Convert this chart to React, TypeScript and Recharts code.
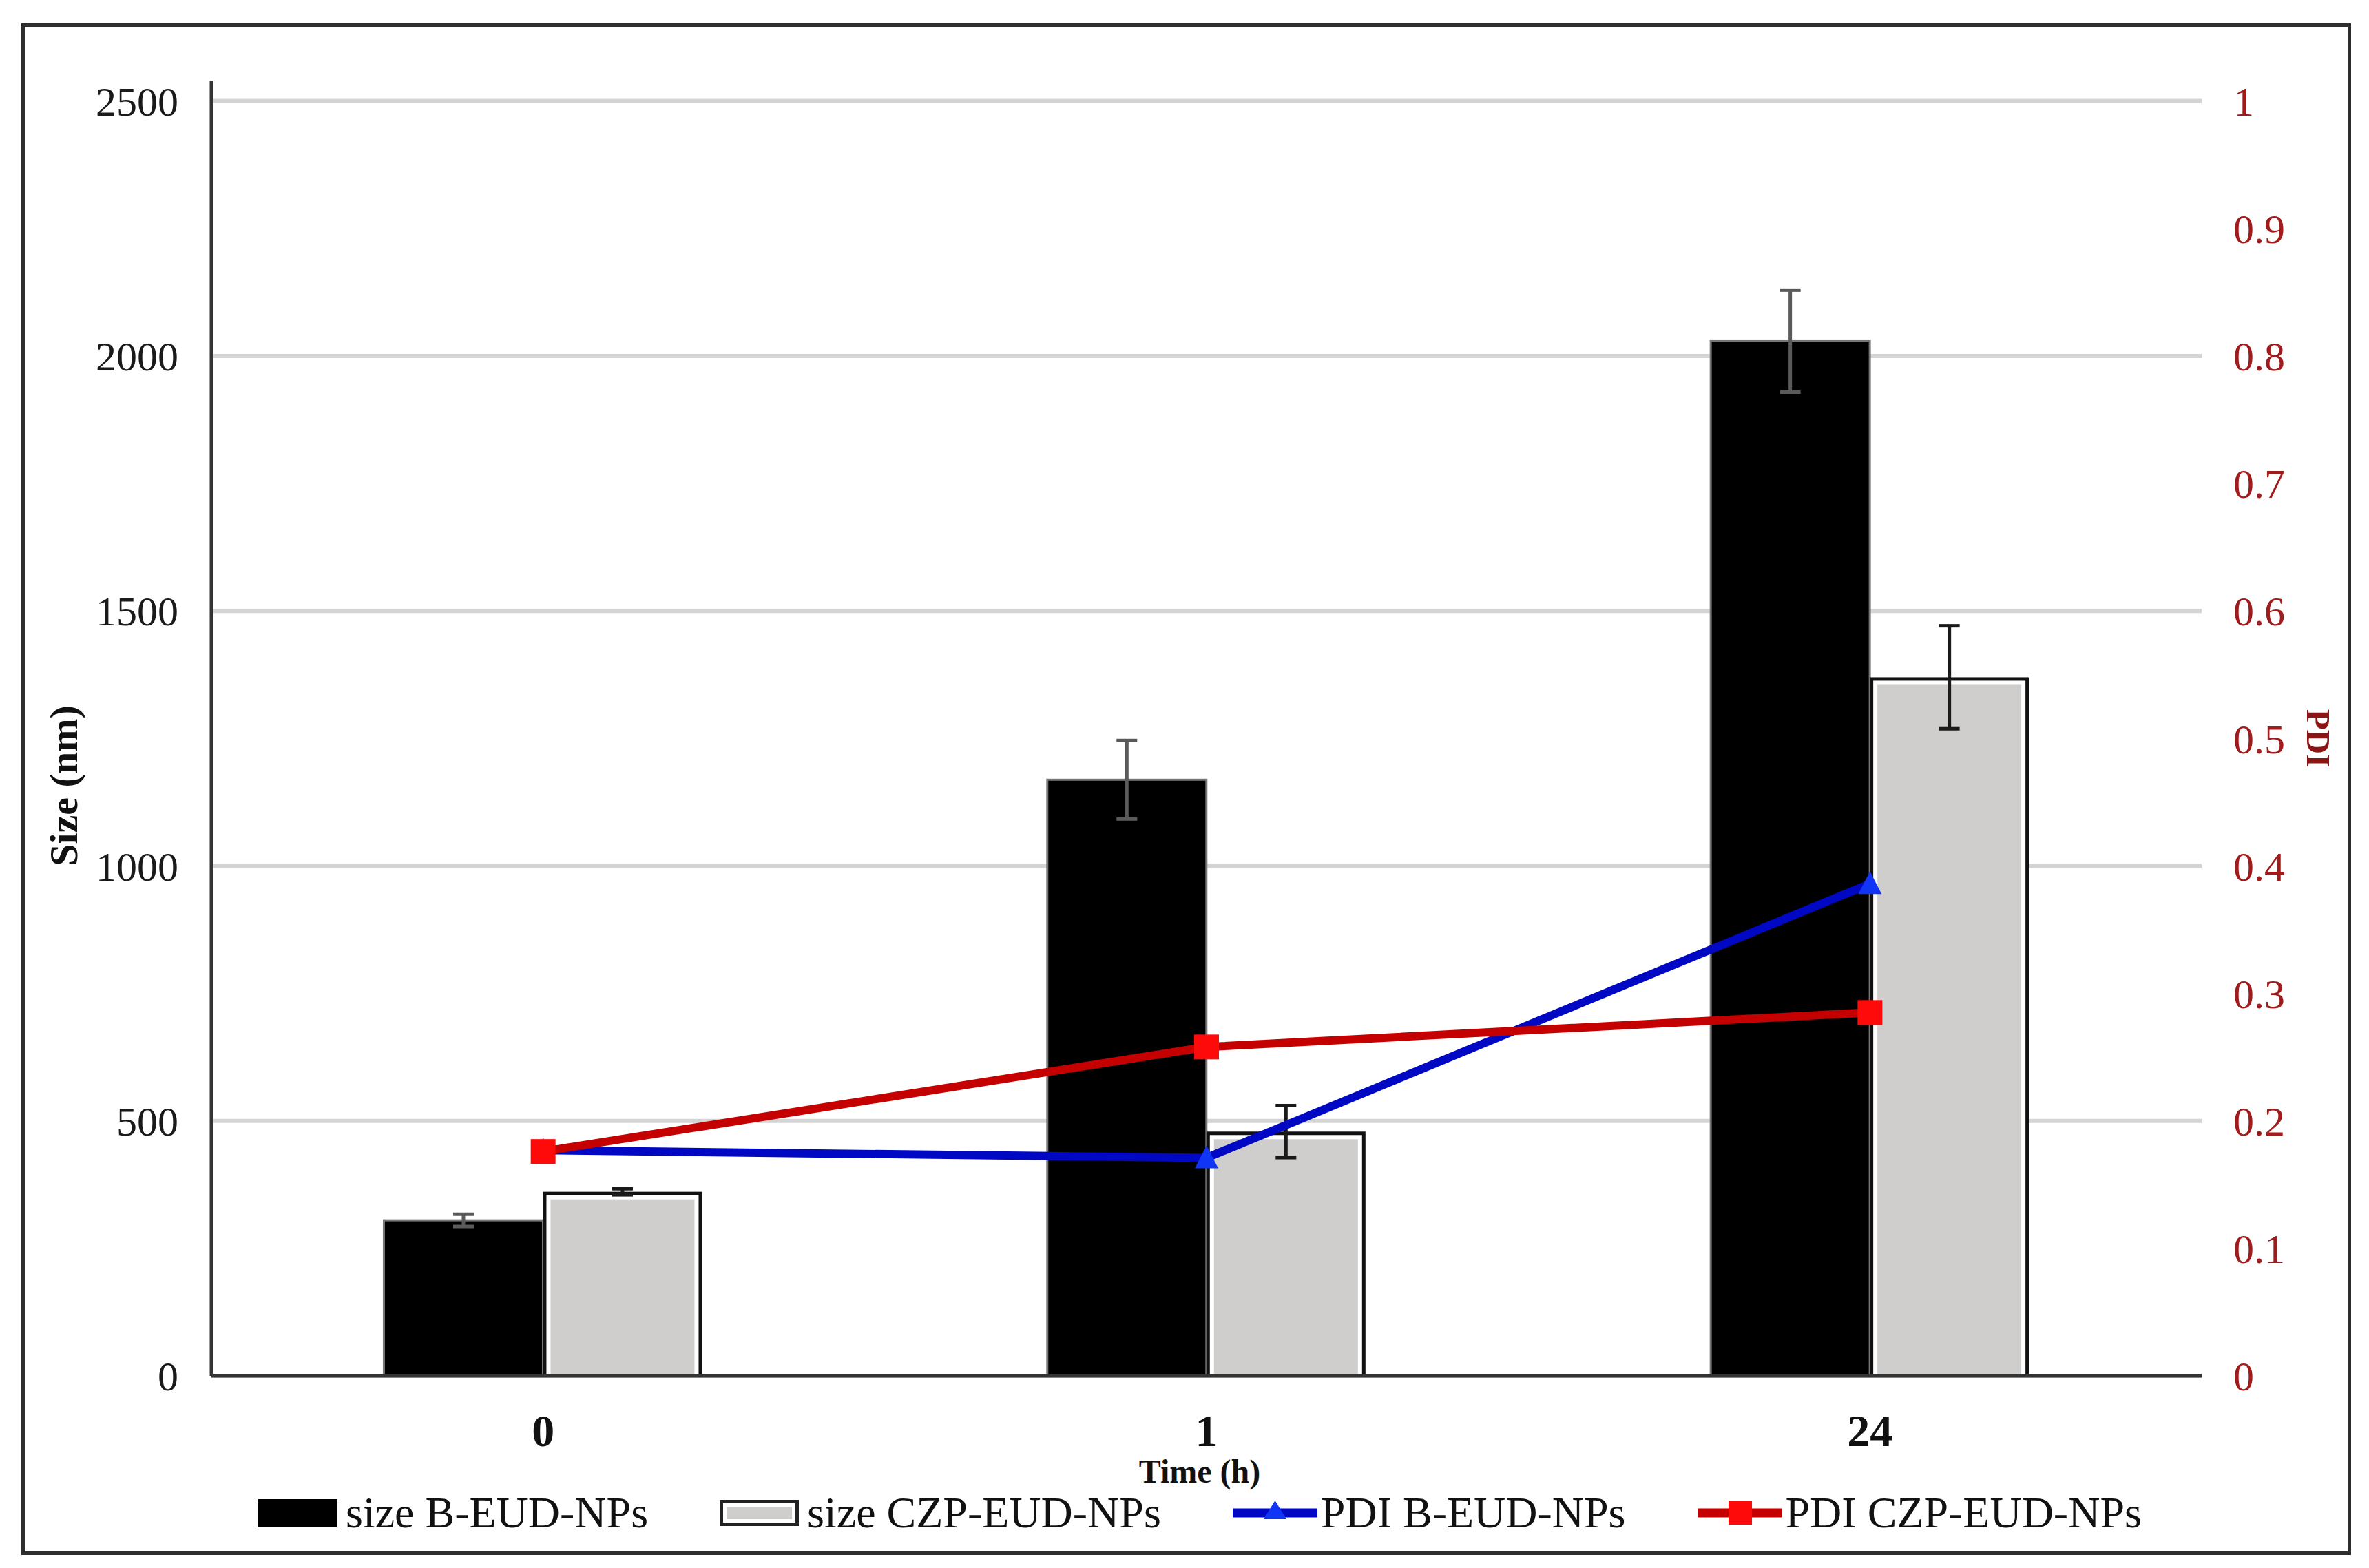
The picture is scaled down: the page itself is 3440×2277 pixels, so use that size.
import React from 'react';
import {
  ComposedChart,
  Bar,
  Line,
  XAxis,
  YAxis,
  CartesianGrid,
  ErrorBar,
  Legend,
  Label,
} from 'recharts';

const categories = ['0', '1', '24'];
const sizeB = [305, 1169, 2029];
const sizeBErr = [12, 77, 100];
const sizeCZP = [361, 479, 1370];
const sizeCZPErr = [6, 51, 101];
const pdiB = [0.177, 0.171, 0.386];
const pdiCZP = [0.176, 0.258, 0.285];
const sizeTicks = [0, 500, 1000, 1500, 2000, 2500];
const pdiTicks = [0, 0.1, 0.2, 0.3, 0.4, 0.5, 0.6, 0.7, 0.8, 0.9, 1];
const seriesNames = ['size B-EUD-NPs', 'size CZP-EUD-NPs', 'PDI B-EUD-NPs', 'PDI CZP-EUD-NPs'];
// axis extents (the left axis line rises a little above the top tick)
const sizeAxisMax = 2540;
const pdiAxisMax = 1.016;

const data = categories.map((t, i) => ({
  time: t,
  sizeB: sizeB[i],
  sizeBErr: sizeBErr[i],
  sizeCZP: sizeCZP[i],
  sizeCZPErr: sizeCZPErr[i],
  pdiB: pdiB[i],
  pdiCZP: pdiCZP[i],
}));

const FONT = '"Liberation Serif", "Times New Roman", serif';
const RED_TEXT = '#A01C1C';
const GRAY_FILL = '#CFCECC';

const GrayBar = (props: any) => {
  const { x, y, width, height } = props;
  if (width == null || height == null || height <= 0) return null;
  return (
    <g>
      <rect x={x} y={y} width={width} height={height} fill="#111" />
      <rect x={x + 5} y={y + 5} width={width - 10} height={height - 5} fill="#fff" />
      <rect x={x + 11} y={y + 11} width={width - 22} height={height - 11} fill={GRAY_FILL} />
    </g>
  );
};

const BlackBar = (props: any) => {
  const { x, y, width, height } = props;
  if (width == null || height == null || height <= 0) return null;
  return <rect x={x} y={y} width={width} height={height} fill="#000" stroke="#777" strokeWidth={3} />;
};

const TriangleDot = (props: any) => {
  const { cx, cy, index } = props;
  if (cx == null || cy == null) return <g key={`t-${index}`} />;
  return (
    <path
      key={`t-${index}`}
      d={`M${cx},${cy - 18} L${cx + 17},${cy + 15} L${cx - 17},${cy + 15} Z`}
      fill="#1035F5"
    />
  );
};

const SquareDot = (props: any) => {
  const { cx, cy, index } = props;
  if (cx == null || cy == null) return <g key={`s-${index}`} />;
  return <rect key={`s-${index}`} x={cx - 18} y={cy - 18} width={36} height={36} fill="#FF0A0A" />;
};

const SizeLabel = (props: any) => {
  const vb = props.viewBox || {};
  const cx = vb.x - 15;
  const cy = 1141;
  return (
    <text
      transform={`translate(${cx},${cy}) rotate(-90)`}
      textAnchor="middle"
      dy="0.35em"
      fontFamily={FONT}
      fontWeight="bold"
      fontSize={58}
      fill="#111"
    >
      Size (nm)
    </text>
  );
};

const PdiLabel = (props: any) => {
  const vb = props.viewBox || {};
  const cx = vb.x + 170;
  const cy = 1072;
  return (
    <text
      transform={`translate(${cx},${cy}) rotate(90)`}
      textAnchor="middle"
      dy="0.35em"
      fontFamily={FONT}
      fontWeight="bold"
      fontSize={49}
      fill="#8E1414"
    >
      PDI
    </text>
  );
};

const TimeLabel = (props: any) => {
  const vb = props.viewBox || {};
  return (
    <text
      x={vb.x + vb.width / 2 - 10}
      y={vb.y + 155}
      textAnchor="middle"
      fontFamily={FONT}
      fontWeight="bold"
      fontSize={48}
      fill="#111"
    >
      Time (h)
    </text>
  );
};

const legendIcon = (i: number) => {
  if (i === 0) {
    return <div style={{ width: 115, height: 40, background: '#000' }} />;
  }
  if (i === 1) {
    return (
      <div
        style={{
          width: 115,
          height: 38,
          boxSizing: 'border-box',
          border: '5px solid #222',
          background: GRAY_FILL,
          boxShadow: 'inset 0 0 0 5px #fff',
        }}
      />
    );
  }
  const color = i === 2 ? '#0008C4' : '#C40000';
  return (
    <svg width={123} height={44} style={{ display: 'block' }}>
      <line x1={0} y1={22} x2={123} y2={22} stroke={color} strokeWidth={13} />
      {i === 2 ? (
        <path d="M61.5,4 L78,31 L45,31 Z" fill="#1035F5" />
      ) : (
        <rect x={45} y={5} width={34} height={34} fill="#FF0A0A" />
      )}
    </svg>
  );
};

const renderLegend = () => (
  <div
    style={{
      display: 'flex',
      alignItems: 'center',
      paddingLeft: 375,
      fontFamily: FONT,
      fontSize: 64,
      lineHeight: '64px',
      color: '#111',
      whiteSpace: 'nowrap',
    }}
  >
    {seriesNames.map((name, i) => (
      <div key={name} style={{ display: 'flex', alignItems: 'center', marginRight: i === 3 ? 0 : 104 }}>
        {legendIcon(i)}
        <span style={{ marginLeft: i < 2 ? 12 : 5 }}>{name}</span>
      </div>
    ))}
  </div>
);

export default function App() {
  return (
    <div style={{ position: 'absolute', left: 0, top: 0, width: 3440, height: 2277, background: '#fff' }}>
      <div
        style={{
          position: 'absolute',
          left: 31,
          top: 34,
          width: 3383,
          height: 2224,
          boxSizing: 'border-box',
          border: '5px solid #2e2e2e',
          pointerEvents: 'none',
        }}
      />
      <ComposedChart
        width={3440}
        height={2277}
        data={data}
        margin={{ top: 117, right: 93, bottom: 179, left: 107 }}
        barCategoryGap="26%"
        barGap={0}
      >
        <CartesianGrid yAxisId="left" vertical={false} horizontalValues={sizeTicks} stroke="#D4D4D4" strokeWidth={6} />
        <XAxis
          dataKey="time"
          height={100}
          axisLine={{ stroke: '#333', strokeWidth: 5 }}
          tickLine={false}
          tickSize={0}
          tickMargin={55}
          tick={{ fontFamily: FONT, fontSize: 66, fontWeight: 'bold', fill: '#111' }}
        >
          <Label content={TimeLabel} />
        </XAxis>
        <YAxis
          yAxisId="left"
          orientation="left"
          width={200}
          domain={[0, sizeAxisMax]}
          ticks={sizeTicks}
          axisLine={{ stroke: '#333', strokeWidth: 5 }}
          tickLine={false}
          tickSize={0}
          tickMargin={48}
          tick={{ fontFamily: FONT, fontSize: 60, fill: '#1a1a1a' }}
        >
          <Label content={SizeLabel} />
        </YAxis>
        <YAxis
          yAxisId="right"
          orientation="right"
          width={150}
          domain={[0, pdiAxisMax]}
          ticks={pdiTicks}
          axisLine={false}
          tickLine={false}
          tickSize={0}
          tickMargin={46}
          tick={{ fontFamily: FONT, fontSize: 60, fill: RED_TEXT, textAnchor: 'start' }}
        >
          <Label content={PdiLabel} />
        </YAxis>
        <Bar
          yAxisId="left"
          dataKey="sizeB"
          name={seriesNames[0]}
          shape={BlackBar}
          isAnimationActive={false}
        >
          <ErrorBar dataKey="sizeBErr" direction="y" width={15} strokeWidth={5} stroke="#5a5a5a" />
        </Bar>
        <Bar
          yAxisId="left"
          dataKey="sizeCZP"
          name={seriesNames[1]}
          shape={GrayBar}
          isAnimationActive={false}
        >
          <ErrorBar dataKey="sizeCZPErr" direction="y" width={15} strokeWidth={5} stroke="#1a1a1a" />
        </Bar>
        <Line
          yAxisId="right"
          dataKey="pdiB"
          name={seriesNames[2]}
          stroke="#0008C4"
          strokeWidth={12}
          dot={TriangleDot}
          activeDot={false}
          isAnimationActive={false}
        />
        <Line
          yAxisId="right"
          dataKey="pdiCZP"
          name={seriesNames[3]}
          stroke="#C40000"
          strokeWidth={12}
          dot={SquareDot}
          activeDot={false}
          isAnimationActive={false}
        />
        <Legend
          verticalAlign="middle"
          align="center"
          layout="horizontal"
          wrapperStyle={{ top: 2165, left: 0, width: 3440 }}
          content={renderLegend}
        />
      </ComposedChart>
    </div>
  );
}
